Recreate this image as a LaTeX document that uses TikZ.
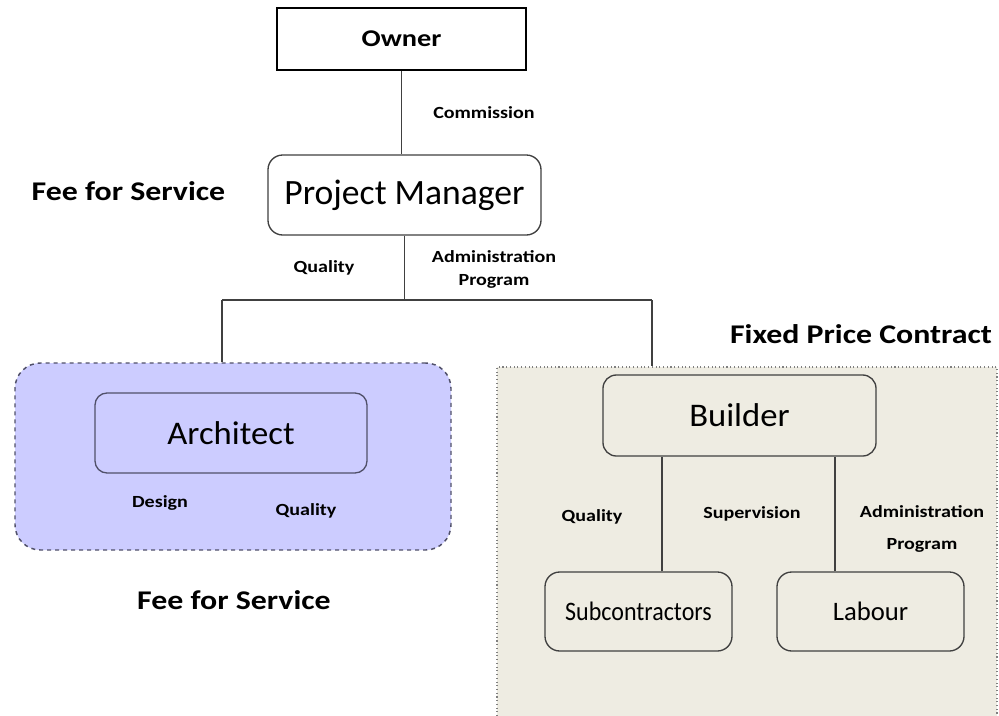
\documentclass[tikz,border=0pt]{standalone}
\usepackage{fontspec}
\setmainfont{Carlito}
\newfontfamily\widefont[FakeStretch=1.18]{Carlito}
\newfontfamily\narrowfont[FakeStretch=0.9]{Carlito}
\newfontfamily\boxfont[FakeStretch=1.05]{Carlito}
\usepackage{tikz}
\definecolor{archfill}{RGB}{204,204,255}
\definecolor{archline}{RGB}{80,80,105}
\definecolor{buildfill}{RGB}{238,236,226}
\definecolor{edge}{RGB}{64,64,64}
\tikzstyle{sqbox} = [draw=black, line width=1.1pt, fill=white, inner sep=0pt]
\tikzstyle{rbox} = [draw=edge, line width=1pt, rounded corners=10pt, inner sep=0pt]
\tikzstyle{lbl} = [font=\widefont\bfseries\fontsize{12.75}{17.25}\selectfont, align=center, inner sep=0pt]
\tikzstyle{biglbl} = [font=\widefont\bfseries\fontsize{20.25}{24}\selectfont, inner sep=0pt]
\tikzstyle{conn} = [draw=edge, line width=1pt]

\begin{document}
\begin{tikzpicture}[x=0.75pt, y=-0.75pt]
\useasboundingbox [fill=white] (0,0) rectangle (999,715);
% groups behind
\node[draw=archline, fill=archfill, dashed, line width=1.1pt, rounded corners=19pt,
  minimum width=327pt, minimum height=140.25pt] (archgrp) at (233,456.5) {};
\node[draw=gray, fill=buildfill, dotted, line width=0.8pt,
  minimum width=375pt, minimum height=268.5pt] (buildgrp) at (747,546) {};
% boxes
\node[sqbox, minimum width=186.75pt, minimum height=46.5pt,
  font=\widefont\bfseries\fontsize{18}{22}\selectfont] (owner) at (401.5,39) {Owner};
\node[rbox, fill=white, rounded corners=11pt, minimum width=204.75pt, minimum height=60pt,
  font=\fontsize{26.7}{32}\selectfont] (pm) at (404.5,195) {Project Manager};
\node[rbox, draw=archline, fill=archfill, rounded corners=9pt, minimum width=204pt, minimum height=60pt,
  font=\boxfont\fontsize{24.75}{30}\selectfont] (arch) at (231,433) {Architect};
\node[rbox, fill=buildfill, minimum width=204.75pt, minimum height=60.75pt,
  font=\boxfont\fontsize{24.75}{30}\selectfont] (builder) at (739.5,415.5) {Builder};
\node[rbox, fill=buildfill, rounded corners=11pt, minimum width=140.25pt, minimum height=59.25pt,
  font=\narrowfont\fontsize{20}{24}\selectfont] (subs) at (638.5,611.5) {Subcontractors};
\node[rbox, fill=buildfill, rounded corners=11pt, minimum width=140.25pt, minimum height=59.25pt,
  font=\fontsize{20}{24}\selectfont] (labour) at (870.5,611.5) {Labour};
% connectors
\coordinate (lj) at (222,300);
\coordinate (rj) at (652,300);
\draw[conn] (owner.south) -- (owner.south |- pm.north);
\draw[conn] (pm.south) -- (pm.south |- lj);
\draw[conn] (lj) -- (rj);
\draw[conn] (lj) -- (lj |- archgrp.north);
\draw[conn] (rj) -- (rj |- buildgrp.north);
\coordinate (sq) at ([xshift=17.6pt]subs.north);
\draw[conn] (sq) -- (sq |- builder.south);
\coordinate (lq) at ([xshift=-26.6pt]labour.north);
\draw[conn] (lq) -- (lq |- builder.south);
% labels
\node[lbl] (commission) at (484,113) {Commission};
\node[lbl] (pmquality) at (324,268) {Quality};
\node[lbl] (pmadmin) at (494,269.5) {Administration\\Program};
\node[lbl] (design) at (160,503) {Design};
\node[lbl] (archquality) at (306,511) {Quality};
\node[lbl] (bquality) at (592,517) {Quality};
\node[lbl] (supervision) at (752,514) {Supervision};
\node[lbl] (badmin) at (922,529) {Administration\\[6.75pt]Program};
\node[biglbl] (feetop) at (128.5,191) {Fee for Service};
\node[biglbl] (feebottom) at (234,600) {Fee for Service};
\node[biglbl] (fixed) at (861,334) {Fixed Price Contract};
\end{tikzpicture}
\end{document}
